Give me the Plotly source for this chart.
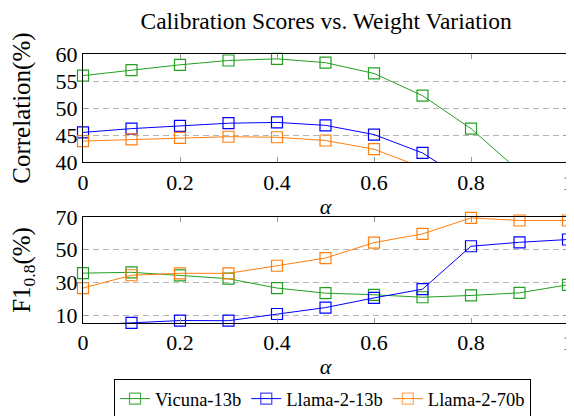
import plotly.graph_objects as go
from plotly.subplots import make_subplots

alpha = [0, 0.1, 0.2, 0.3, 0.4, 0.5, 0.6, 0.7, 0.8, 0.9, 1.0]

corr_vicuna = [56.0, 57.0, 58.0, 58.8, 59.1, 58.4, 56.4, 52.3, 46.2, 38.3, 30.0]
corr_llama13 = [45.5, 46.2, 46.7, 47.2, 47.35, 46.8, 45.1, 41.7, 36.0, 34.0, 32.0]
corr_llama70 = [43.9, 44.2, 44.5, 44.7, 44.6, 44.0, 42.4, 39.0, 35.0, 33.0, 31.0]

f1_vicuna = [35.7, 36.2, 34.3, 32.3, 26.6, 23.5, 22.5, 21.0, 22.1, 23.7, 28.6]
f1_llama13 = [4.0, 5.4, 6.8, 6.7, 10.8, 14.7, 20.6, 25.9, 52.1, 54.5, 56.2]
f1_llama70 = [26.6, 34.4, 35.6, 35.6, 40.2, 44.9, 54.3, 59.6, 69.4, 67.8, 67.8]

names = ["Vicuna-13b", "Llama-2-13b", "Llama-2-70b"]
colors = ["#22a022", "#0000ff", "#ff7f0e"]

top_range = [40, 60]
bot_range = [5.3, 70]

SERIF = "Liberation Serif, Times New Roman, serif"

fig = make_subplots(rows=2, cols=1, vertical_spacing=0.2)

def add(series, row, rng, show):
    for name, ys, c in zip(names, series, colors):
        op = [1 if rng[0] - 0.5 <= y <= rng[1] + 0.5 else 0 for y in ys]
        fig.add_trace(go.Scatter(
            x=alpha, y=ys, name=name, mode="lines+markers",
            line=dict(color=c, width=1),
            marker=dict(symbol="square-open", size=11, color=c,
                        line=dict(width=1.2, color=c), opacity=op),
            cliponaxis=False, showlegend=show), row=row, col=1)

add([corr_vicuna, corr_llama13, corr_llama70], 1, top_range, True)
add([f1_vicuna, f1_llama13, f1_llama70], 2, bot_range, False)

axis_common = dict(showline=True, linecolor="black", linewidth=1, mirror="ticks",
                   ticks="inside", ticklen=5, tickcolor="#999999", automargin=False,
                   zeroline=False, tickfont=dict(family=SERIF, size=22, color="black"))

for r in (1, 2):
    fig.update_xaxes(range=[0, 1], tickvals=[0, 0.2, 0.4, 0.6, 0.8, 1],
                     ticktext=["0", "0.2", "0.4", "0.6", "0.8", "1"],
                     showgrid=False,
                     title=dict(text="<i>α</i>", font=dict(family=SERIF, size=22, color="black"), standoff=5),
                     row=r, col=1, **axis_common)

fig.update_yaxes(range=top_range, tickvals=[40, 45, 50, 55, 60], showgrid=True,
                 gridcolor="#b4b4b4", griddash="6px,4px", gridwidth=1,
                 title=dict(text="Correlation(%)", font=dict(family=SERIF, size=25, color="black"), standoff=18),
                 row=1, col=1, **axis_common)
fig.update_yaxes(range=bot_range, tickvals=[10, 30, 50, 70], showgrid=True,
                 gridcolor="#b4b4b4", griddash="6px,4px", gridwidth=1,
                 title=dict(text="F1<sub>0.8</sub>(%)", font=dict(family=SERIF, size=25, color="black"), standoff=18),
                 row=2, col=1, **axis_common)

fig.update_layout(
    width=566, height=416,
    margin=dict(l=75, r=6, t=46, b=101.3),
    plot_bgcolor="white", paper_bgcolor="white",
    title=dict(text="Calibration Scores vs. Weight Variation", x=0.562, xanchor="center",
               y=0.970, yanchor="middle",
               font=dict(family=SERIF, size=23.5, color="black")),
    legend=dict(orientation="h", xref="container", yref="container",
                x=0.5557, xanchor="center", y=0.108, yanchor="top",
                bordercolor="black", borderwidth=1,
                font=dict(family=SERIF, size=18.5, color="black"),
                tracegroupgap=0),
    font=dict(family=SERIF),
)
fig.layout.yaxis.domain = [0.598, 1.0]
fig.layout.yaxis2.domain = [0.0, 0.3945]

fig.write_html("out.html")
